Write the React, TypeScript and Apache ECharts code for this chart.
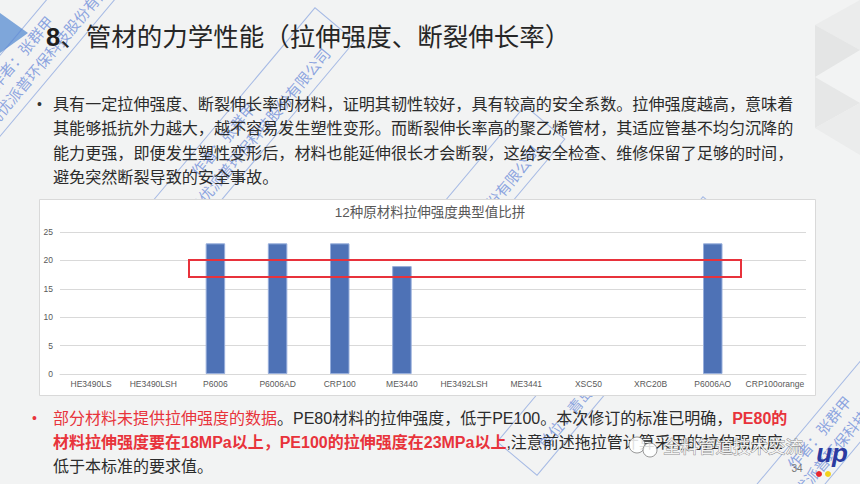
import React, { useEffect, useRef } from 'react';
import * as echarts from 'echarts';

// ---------- data ----------
const categories = ['HE3490LS', 'HE3490LSH', 'P6006', 'P6006AD', 'CRP100', 'ME3440', 'HE3492LSH', 'ME3441', 'XSC50', 'XRC20B', 'P6006AO', 'CRP100orange'];
const tensileStrength: (number | null)[] = [null, null, 23, 23, 23, 19, null, null, null, null, 23, null];
const yMin = 0;
const yMax = 25;
const yInterval = 5;

const chartTitle = '12种原材料拉伸强度典型值比拼';
const slideTitleNum = '8';
const slideTitleText = '、管材的力学性能（拉伸强度、断裂伸长率）';
const bodyLines = [
  '具有一定拉伸强度、断裂伸长率的材料，证明其韧性较好，具有较高的安全系数。拉伸强度越高，意味着',
  '其能够抵抗外力越大，越不容易发生塑性变形。而断裂伸长率高的聚乙烯管材，其适应管基不均匀沉降的',
  '能力更强，即便发生塑性变形后，材料也能延伸很长才会断裂，这给安全检查、维修保留了足够的时间，',
  '避免突然断裂导致的安全事故。',
];
const noteLines = [
  '{r|部分材料未提供拉伸强度的数据}{k|。PE80材料的拉伸强度，低于PE100。本次修订的标准已明确，}{rb|PE80的}',
  '{rb|材料拉伸强度要在18MPa以上，PE100的拉伸强度在23MPa以上}{k|,注意前述拖拉管计算采用的拉伸强度应}',
  '{k|低于本标准的要求值。}',
];
const watermarkLine1 = '作者：张群甲';
const watermarkLine2 = '单位：青岛优派普环保科技股份有限公司';
const wechatMark = '全料管道技术交流';
const pageNumber = '34';

const FONT = "'Liberation Sans', 'Noto Sans CJK SC', sans-serif";
const WM_FILL = 'rgba(70,110,210,0.6)';

function watermark(x: number, y: number) {
  const rot = (50 * Math.PI) / 180;
  return {
    type: 'group',
    x,
    y,
    rotation: rot,
    z: 1,
    children: [
      { type: 'rect', z: 1, shape: { x: -160, y: -26, width: 320, height: 52 }, style: { fill: 'none', stroke: 'rgba(90,130,215,0.5)', lineWidth: 1 } },
      { type: 'text', z: 1, x: 0, y: -11, style: { text: watermarkLine1, fontSize: 15, fontFamily: FONT, fill: WM_FILL, align: 'center', verticalAlign: 'middle' } },
      { type: 'text', z: 1, x: 0, y: 11, style: { text: watermarkLine2, fontSize: 15, fontFamily: FONT, fill: WM_FILL, align: 'center', verticalAlign: 'middle' } },
    ],
  };
}

export default function App() {
  const ref = useRef<HTMLDivElement>(null);
  useEffect(() => {
    if (!ref.current) return;
    const chart = echarts.init(ref.current, undefined, { renderer: 'svg' });

    const graphics: any[] = [];
    // decorative background shapes
    graphics.push({ type: 'polygon', z: 0, shape: { points: [[0, 13], [28, 33], [0, 53]] }, style: { fill: '#7ea6da' } });
    graphics.push({ type: 'polygon', z: 0, shape: { points: [[815, 25], [860, 0], [860, 50]] }, style: { fill: '#ebecec' } });
    graphics.push({ type: 'polygon', z: 0, shape: { points: [[815, 25], [860, 50], [815, 77]] }, style: { fill: '#e4e5e5' } });
    graphics.push({ type: 'polygon', z: 0, shape: { points: [[815, 77], [860, 103], [815, 128]] }, style: { fill: '#e6e7e7' } });
    graphics.push({ type: 'polygon', z: 0, shape: { points: [[815, 128], [860, 103], [860, 155]] }, style: { fill: '#ebecec' } });

    // slide title
    graphics.push({
      type: 'text', z: 2, x: 46, y: 37,
      style: {
        text: `{b|${slideTitleNum}}{n|${slideTitleText}}`,
        verticalAlign: 'middle',
        rich: {
          b: { fontSize: 25.5, fontWeight: 'bold', fontFamily: FONT, fill: '#1e1e1e' },
          n: { fontSize: 25.5, fontFamily: FONT, fill: '#262626' },
        },
      },
    });

    // body text
    graphics.push({ type: 'text', z: 2, x: 37, y: 104, style: { text: '•', fontSize: 14, fontFamily: FONT, fill: '#333', verticalAlign: 'middle' } });
    bodyLines.forEach((line, i) => {
      graphics.push({ type: 'text', z: 2, x: 53, y: 104 + i * 24.3, style: { text: line, fontSize: 16.1, fontFamily: FONT, fill: '#2b2b2b', verticalAlign: 'middle' } });
    });

    // note text
    graphics.push({ type: 'text', z: 2, x: 32, y: 418, style: { text: '•', fontSize: 14, fontFamily: FONT, fill: '#e8333b', verticalAlign: 'middle' } });
    noteLines.forEach((line, i) => {
      graphics.push({
        type: 'text', z: 2, x: 53, y: 418 + i * 24,
        style: {
          text: line,
          verticalAlign: 'middle',
          rich: {
            r: { fontSize: 16, fontFamily: FONT, fill: '#e8333b' },
            rb: { fontSize: 16, fontFamily: FONT, fontWeight: 'bold', fill: '#e8333b' },
            k: { fontSize: 16, fontFamily: FONT, fill: '#2b2b2b' },
          },
        },
      });
    });

    // watermarks (below the chart panel)
    graphics.push(watermark(30, 60));
    graphics.push(watermark(232, 147));
    graphics.push(watermark(442, 245));
    graphics.push(watermark(620, 336));
    graphics.push(watermark(828, 440));

    // chart panel
    graphics.push({ type: 'rect', z: 2, shape: { x: 39.5, y: 199.5, width: 776, height: 196 }, style: { fill: '#ffffff', stroke: '#d9d9d9', lineWidth: 1 } });

    // red highlight box
    graphics.push({ type: 'rect', z: 10, shape: { x: 189, y: 260, width: 552, height: 17 }, style: { fill: 'none', stroke: '#e8323b', lineWidth: 2 } });

    // wechat mark
    graphics.push({ type: 'circle', z: 11, shape: { cx: 637, cy: 445, r: 8 }, style: { fill: 'rgba(255,255,255,0.85)', stroke: 'rgba(110,110,110,0.7)', lineWidth: 1 } });
    graphics.push({ type: 'circle', z: 11, shape: { cx: 650, cy: 450, r: 7 }, style: { fill: 'rgba(255,255,255,0.85)', stroke: 'rgba(110,110,110,0.7)', lineWidth: 1 } });
    graphics.push({ type: 'text', z: 11, x: 663, y: 447, style: { text: wechatMark, fontSize: 17.5, fontFamily: FONT, fill: 'rgba(255,255,255,0.9)', stroke: 'rgba(100,100,100,0.7)', lineWidth: 1, verticalAlign: 'middle' } });
    graphics.push({ type: 'text', z: 11, x: 797, y: 468, style: { text: pageNumber, fontSize: 10, fontFamily: FONT, fill: '#777', align: 'center', verticalAlign: 'middle' } });

    // logo
    graphics.push({ type: 'text', z: 11, x: 832, y: 453, style: { text: 'up', fontSize: 26, fontWeight: 900, fontStyle: 'italic', fontFamily: FONT, fill: '#2b3ba0', align: 'center', verticalAlign: 'middle' } });
    graphics.push({ type: 'circle', z: 11, shape: { cx: 819, cy: 474, r: 3 }, style: { fill: '#e8262d' } });
    graphics.push({ type: 'circle', z: 11, shape: { cx: 828, cy: 474, r: 3 }, style: { fill: '#f2d21c' } });

    chart.setOption({
      animation: false,
      backgroundColor: '#f2f3f3',
      title: {
        text: chartTitle,
        left: 'center',
        top: 201,
        z: 6,
        textStyle: { fontSize: 13.5, fontWeight: 'normal', color: '#595959', fontFamily: FONT },
      },
      grid: { left: 60, right: 54, top: 232, bottom: 110, containLabel: false },
      xAxis: {
        type: 'category',
        data: categories,
        z: 3,
        axisLine: { lineStyle: { color: '#d9d9d9' } },
        axisTick: { show: false },
        axisLabel: { interval: 0, fontSize: 8.5, color: '#595959', margin: 6, fontFamily: FONT },
      },
      yAxis: {
        type: 'value',
        min: yMin,
        max: yMax,
        interval: yInterval,
        z: 3,
        axisLine: { show: false },
        axisTick: { show: false },
        axisLabel: { fontSize: 8.5, color: '#595959', margin: 7, fontFamily: FONT },
        splitLine: { lineStyle: { color: '#d9d9d9' } },
      },
      series: [
        {
          type: 'bar',
          data: tensileStrength,
          barWidth: 19.5,
          z: 4,
          itemStyle: { color: '#4e72b6', borderColor: '#97aedb', borderWidth: 1 },
        },
      ],
      graphic: { elements: graphics },
    });
    return () => chart.dispose();
  }, []);
  return <div ref={ref} style={{ position: 'absolute', left: 0, top: 0, width: 860, height: 484 }} />;
}
